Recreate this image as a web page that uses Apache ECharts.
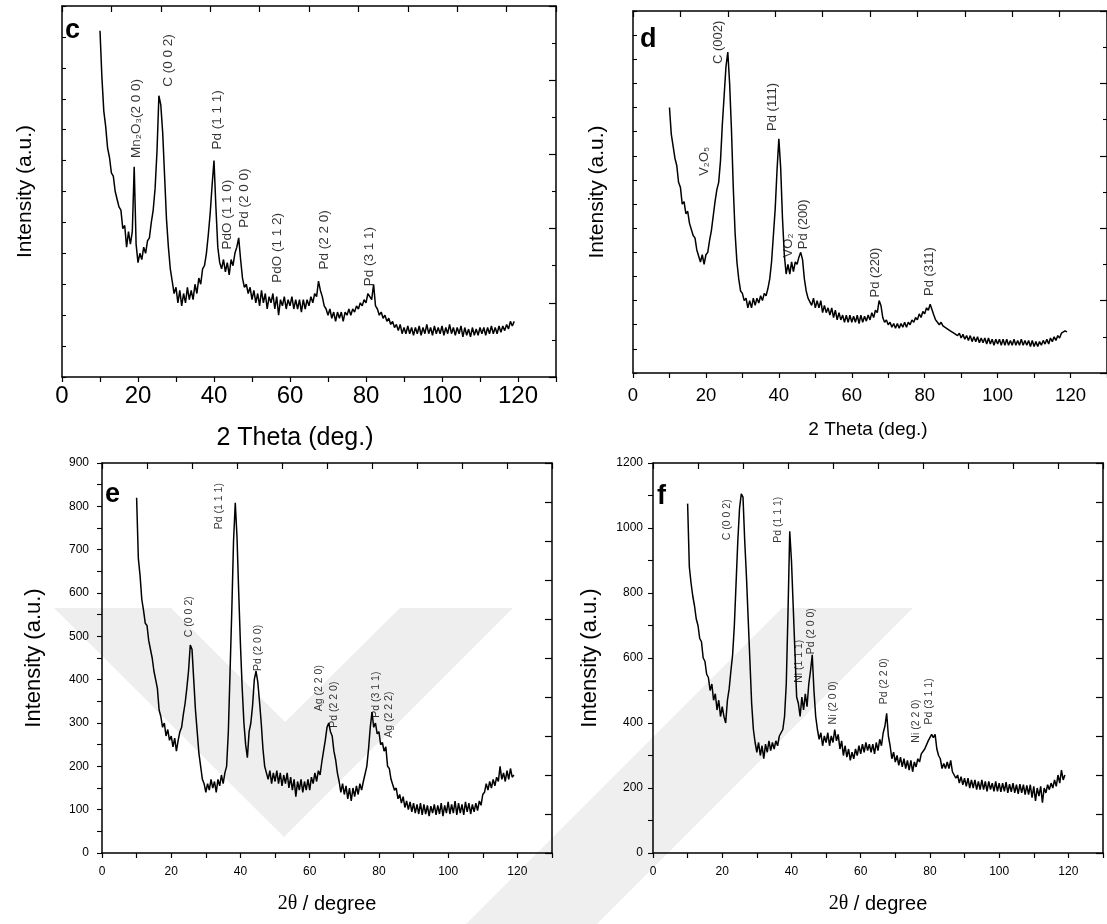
<!DOCTYPE html>
<html><head><meta charset="utf-8">
<script src="https://cdn.jsdelivr.net/npm/echarts@6/dist/echarts.min.js"></script>
<style>html,body{margin:0;padding:0;background:#fff}#chart{width:1107px;height:924px}</style>
</head><body><div id="chart"></div>
<script>
// 2θ grid shared by the four diffractograms (degrees)
const twoTheta = [
 10,10.5,11,11.5,12,12.5,13,13.5,14,14.5,15,15.5,16,16.5,17,17.5,18,18.5,19,19.5,
 20,20.5,21,21.5,22,22.5,23,23.5,24,24.5,25,25.5,26,26.5,27,27.5,28,28.5,29,29.5,
 30,30.5,31,31.5,32,32.5,33,33.5,34,34.5,35,35.5,36,36.5,37,37.5,38,38.5,39,39.5,
 40,40.5,41,41.5,42,42.5,43,43.5,44,44.5,45,45.5,46,46.5,47,47.5,48,48.5,49,49.5,
 50,50.5,51,51.5,52,52.5,53,53.5,54,54.5,55,55.5,56,56.5,57,57.5,58,58.5,59,59.5,
 60,60.5,61,61.5,62,62.5,63,63.5,64,64.5,65,65.5,66,66.5,67,67.5,68,68.5,69,69.5,
 70,70.5,71,71.5,72,72.5,73,73.5,74,74.5,75,75.5,76,76.5,77,77.5,78,78.5,79,79.5,
 80,80.5,81,81.5,82,82.5,83,83.5,84,84.5,85,85.5,86,86.5,87,87.5,88,88.5,89,89.5,
 90,90.5,91,91.5,92,92.5,93,93.5,94,94.5,95,95.5,96,96.5,97,97.5,98,98.5,99,99.5,
 100,100.5,101,101.5,102,102.5,103,103.5,104,104.5,105,105.5,106,106.5,107,107.5,108,108.5,109,109.5,
 110,110.5,111,111.5,112,112.5,113,113.5,114,114.5,115,115.5,116,116.5,117,117.5,118,118.5,119
];
// Panel c intensity (a.u.)
const intensityC = [
 112,97,86,81,74,71,66,65,60,60,55,54,48,49,42,47,43,47,68,43,
 37,40,38,42,40,44,45,50,54,61,73,91,88,79,65,51,42,35,31,27,
 29,24,28,23,27,24,29,25,28,25,30,27,32,30,35,36,40,46,53,62,
 70,55,42,37,35,38,34,37,33,38,36,40,42,45,38,32,29,30,27,29,
 25,28,24,27,23,28,24,27,22,26,24,27,22,26,20,25,23,26,22,25,
 23,26,22,25,22,25,21,25,22,25,23,26,24,27,26,31,28,26,23,22,
 20,22,19,21,18,21,19,21,18,21,20,22,20,22,21,23,22,24,23,25,
 24,27,26,25,30,23,22,20,21,19,20,18,19,17,18,16,17,15,17,14,
 16,14,16.5,14,16,13.5,16,14,16.5,13.5,16,14,17,14,16,13.5,16.5,14,16,14,
 16.5,13.5,16,14,17,14,16,13.5,16,14,16.5,13,16,13.5,15.5,13,16,13.5,15.5,13.5,
 16,14,16,13.5,16,14,16.5,14,16,14,16.5,14.5,16.5,15,17,15.5,18,16.5,18
];
// Panel d intensity (a.u.)
const intensityD = [
 110,99,94,89,86,79,77,70,71,66,67,62,62,57,56,51,51,46,49,45,
 49,50,55,59,65,71,76,79,88,103,115,127,133,120,101,77,58,46,39,34,
 33,30,31,27,30,27,31,28,31,29,32,30,33,32,35,39,46,57,68,84,
 97,85,64,49,41,45,41,46,42,46,45,48,50,47,39,34,31,31,28,31,
 27,30,27,30,25,28,25,27,24,27,23,26,22,25,22,24,21,24,21,24,
 21,23.5,21,24,20.5,24,21,23.5,21.5,24,22,25,23,26,25,30,28,23,21,22,
 20,21,19,20.5,18.5,20.5,18.5,20.5,19,21,19,21,20,22,21,23,22,24.5,23,25.5,
 24.5,27,26,28.5,29,24,22,21,20,21,19.5,20,18.5,19,17.5,18,16.5,17,15.5,16.5,
 14.5,16,14,15.5,13.5,15.5,13,15,13,15,12.5,14.5,12.5,14.5,12,14.5,12,14,11.5,14,
 12,14,11.5,14,11.5,14,11.5,13.5,11.5,14,11.5,13.5,11.5,14,11.5,13.5,11.5,13.5,11,13.5,
 11,13,11,13,11.5,13.5,12,14,12,14.5,13,15,13.5,15.5,14.5,16.5,16,17.5,17
];
// Panel e intensity (a.u.)
const intensityE = [
 820,680,640,585,560,530,525,490,490,450,420,400,380,330,315,290,300,270,285,260,
 270,245,265,235,260,280,290,320,345,380,420,480,470,400,330,280,230,200,170,160,
 140,160,145,170,150,165,140,170,155,180,160,185,200,280,420,560,720,808,730,600,
 480,380,300,250,220,280,300,340,400,420,395,350,300,240,200,185,170,190,160,185,
 165,190,160,185,155,180,160,185,150,175,145,170,130,165,145,170,140,165,145,170,
 145,175,160,185,165,190,180,210,235,260,290,300,280,270,235,215,185,165,140,160,
 135,155,125,150,120,150,130,155,135,160,145,165,165,200,240,290,325,290,300,275,
 280,250,255,235,245,200,195,170,170,145,150,125,135,115,130,105,120,100,118,95,
 115,92,112,90,115,88,112,90,110,85,108,92,112,88,110,90,115,85,110,92,
 118,90,112,92,120,88,115,92,112,88,118,95,115,90,112,95,115,98,120,110,
 135,140,160,145,165,150,170,155,175,165,200,170,185,165,190,170,195,175,180
];
// Panel f intensity (a.u.)
const intensityF = [
 1075,880,830,790,760,720,700,660,650,600,590,550,540,500,520,470,490,440,470,420,
 450,420,400,470,505,560,610,700,830,960,1060,1105,1095,960,850,720,590,460,380,340,
 310,340,300,330,290,335,310,345,315,340,320,345,330,360,355,380,420,520,740,990,
 900,760,620,480,460,420,480,440,490,450,520,560,610,500,420,380,350,370,330,360,
 340,370,330,360,340,380,345,365,320,345,300,330,295,320,285,310,290,320,300,330,
 305,335,310,340,315,335,310,335,305,340,315,350,330,370,390,430,360,330,290,310,
 280,300,270,295,265,290,260,285,255,285,250,280,265,290,280,305,300,320,320,345,
 340,365,355,365,320,300,290,260,275,260,280,260,285,250,255,230,240,215,235,210,
 230,205,230,200,225,200,225,195,220,195,225,195,220,190,220,195,215,190,220,190,
 215,188,215,190,218,185,212,188,215,185,210,182,212,185,210,180,208,180,210,170,
 205,160,200,175,205,155,200,185,210,195,215,200,225,205,240,215,255,225,240
];
// Peak assignments: [2θ, intensity at label foot, text]
const peaksC = [
 [19.7, 70.7, 'Mn\u2082O\u2083(2 0 0)'], [28.2, 93.7, 'C (0 0 2)'], [41.1, 73.4, 'Pd (1 1 1)'],
 [43.7, 41.1, 'PdO (1 1 0)'], [48.1, 48.1, 'Pd (2 0 0)'], [56.8, 30.3, 'PdO (1 1 2)'],
 [69.1, 34.6, 'Pd (2 2 0)'], [81.0, 29.2, 'Pd (3 1 1)']
];
const peaksD = [
 [23.6, 127.8, 'C (002)'], [19.7, 81.5, 'V\u2082O\u2085'], [38.4, 100.1, 'Pd (111)'],
 [42.8, 47.7, 'VO\u2082'], [46.8, 51.1, 'Pd (200)'], [66.7, 31.1, 'Pd (220)'], [81.4, 31.7, 'Pd (311)']
];
const peaksE = [
 [34.1, 746, 'Pd (1 1 1)'], [25.2, 497, 'C (0 0 2)'], [45.2, 419, 'Pd (2 0 0)'],
 [63.0, 326, 'Ag (2 2 0)'], [67.3, 288, 'Pd (2 2 0)'], [79.4, 311, 'Pd (3 1 1)'], [83.2, 265, 'Ag (2 2 2)']
];
const peaksF = [
 [21.5, 961, 'C (0 0 2)'], [36.3, 953, 'Pd (1 1 1)'], [42.3, 522, 'Ni (1 1 1)'], [45.7, 610, 'Pd (2 0 0)'],
 [52.2, 394, 'Ni (2 0 0)'], [66.8, 456, 'Pd (2 2 0)'], [76.1, 338, 'Ni (2 2 0)'], [80.0, 394, 'Pd (3 1 1)']
];
const panelLetters = ['c', 'd', 'e', 'f'];

const FONT = "'Liberation Sans', Arial, 'DejaVu Sans', sans-serif";
const panels = [
 {grid:{left:62, top:6, width:494, height:371}, y:intensityC, peaks:peaksC, yMax:120, yInt:10, yLabels:false, yMinor:0, rInt:24, rMinor:2,
  xLabelSize:24, xLabelMargin:7, xName:'2 Theta (deg.)', xNameGap:49, xNameSize:25, xNamePad:[0, 28, 0, 0], yNameGap:26, yNameSize:21, yLabelMargin:8, peakSize:13.5,
  letter:{x:65, y:31, size:27}},
 {grid:{left:633, top:11, width:474, height:362}, y:intensityD, peaks:peaksD, yMax:150, yInt:10, yLabels:false, yMinor:0, rInt:30, rMinor:2,
  xLabelSize:18.5, xLabelMargin:13, xName:'2 Theta (deg.)', xNameGap:47, xNameSize:19, xNamePad:[0, 4, 0, 0], yNameGap:25, yNameSize:21, yLabelMargin:8, peakSize:13,
  letter:{x:640, y:40, size:27}},
 {grid:{left:102, top:463, width:450, height:390}, y:intensityE, peaks:peaksE, yMax:900, yInt:100, yLabels:true, yMinor:2, rInt:90, rMinor:0,
  xLabelSize:12, xLabelMargin:13, xName:'{s|2\u03b8} / degree', xNameGap:41, xNameSize:20, xNamePad:[0, 0, 0, 0], yNameGap:57, yNameSize:22, yLabelMargin:13, peakSize:10.5,
  letter:{x:105, y:495, size:27}},
 {grid:{left:653, top:463, width:450, height:390}, y:intensityF, peaks:peaksF, yMax:1200, yInt:200, yLabels:true, yMinor:2, rInt:120, rMinor:0,
  xLabelSize:12, xLabelMargin:13, xName:'{s|2\u03b8} / degree', xNameGap:41, xNameSize:20, xNamePad:[0, 0, 0, 0], yNameGap:52, yNameSize:22, yLabelMargin:10, peakSize:10.5,
  letter:{x:657, y:497, size:27}}
];

const grids = [], xAxes = [], yAxes = [], series = [];
const black = '#000';
// faint background watermark (chevron bands)
const graphics = [
  {type:'polygon', z:-5, silent:true, shape:{points:[[54,608],[171,608],[285,722],[400,608],[513,608],[284,837]]}, style:{fill:'#eeeeee'}},
  {type:'polygon', z:-5, silent:true, shape:{points:[[782,608],[913,608],[597,924],[466,924]]}, style:{fill:'#efefef'}}
];
panels.forEach((p, k) => {
  grids.push(Object.assign({outerBoundsMode:'none', containLabel:false}, p.grid));
  const isBig = !p.yLabels;
  xAxes.push({type:'value', gridIndex:k, position:'bottom', min:0, max:130, interval:10,
    axisLine:{onZero:false, lineStyle:{color:black, width:1.5}},
    axisTick:{show:true, inside:false, length:5, lineStyle:{color:black, width:1.2}},
    axisLabel:{show:true, color:black, fontSize:p.xLabelSize, fontFamily:FONT, margin:p.xLabelMargin,
      formatter: v => (v % 20 === 0 && v <= 120) ? String(v) : ''},
    splitLine:{show:false},
    name:p.xName, nameLocation:'middle', nameGap:p.xNameGap,
    nameTextStyle:{color:black, fontSize:p.xNameSize, fontFamily:FONT, padding:p.xNamePad,
      rich:{s:{fontFamily:"'Liberation Serif', 'DejaVu Serif', serif", fontSize:p.xNameSize, color:black}}}
  });
  xAxes.push({type:'value', gridIndex:k, position:'top', min:0, max:130, interval:13,
    axisLine:{onZero:false, lineStyle:{color:black, width:1.5}},
    axisTick:{show:true, inside:true, length:6, lineStyle:{color:black, width:1.2}},
    axisLabel:{show:false}, splitLine:{show:false}});
  yAxes.push({type:'value', gridIndex:k, position:'left', min:0, max:p.yMax, interval:p.yInt,
    axisLine:{onZero:false, lineStyle:{color:black, width:1.5}},
    axisTick:{show:true, inside:isBig, length:isBig ? 4 : 5, lineStyle:{color:black, width:1.1}},
    minorTick:{show:p.yMinor > 0, splitNumber:p.yMinor || 5, length:5, lineStyle:{color:black, width:1.1}},
    axisLabel:{show:p.yLabels, color:black, fontSize:12, fontFamily:FONT, margin:p.yLabelMargin,
      formatter: v => String(v)},
    splitLine:{show:false},
    name:'Intensity (a.u.)', nameLocation:'middle', nameGap:p.yNameGap,
    nameTextStyle:{color:black, fontSize:p.yNameSize, fontFamily:FONT}
  });
  yAxes.push({type:'value', gridIndex:k, position:'right', min:0, max:p.yMax, interval:p.rInt,
    axisLine:{onZero:false, lineStyle:{color:black, width:1.5}},
    axisTick:{show:true, inside:true, length:7, lineStyle:{color:black, width:1.2}},
    minorTick:{show:p.rMinor > 0, splitNumber:p.rMinor || 5, length:4, lineStyle:{color:black, width:1.1}},
    axisLabel:{show:false}, splitLine:{show:false}});
  series.push({type:'line', xAxisIndex:2*k, yAxisIndex:2*k, symbol:'none', showSymbol:false, silent:true,
    data: twoTheta.map((t, i) => [t, p.y[i]]),
    lineStyle:{color:black, width:1.5}, z:3});
  series.push({type:'scatter', xAxisIndex:2*k, yAxisIndex:2*k, symbol:'circle', symbolSize:1, silent:true,
    itemStyle:{color:'rgba(0,0,0,0)'}, z:4,
    data: p.peaks.map(q => ({value:[q[0], q[1]], name:q[2]})),
    label:{show:true, formatter:'{b}', rotate:90, position:[0, 0], align:'left', verticalAlign:'middle',
      color:black, fontSize:p.peakSize, fontFamily:FONT}});
  graphics.push({type:'text', x:p.letter.x, y:p.letter.y, z:100,
    style:{text:panelLetters[k], fill:black, font:'bold ' + p.letter.size + "px 'Liberation Sans', Arial, sans-serif",
      align:'left', verticalAlign:'middle', textAlign:'left', textVerticalAlign:'middle'}});
});

const chart = echarts.init(document.getElementById('chart'), null, {renderer:'canvas'});
chart.setOption({
  backgroundColor:'#fff', animation:false, textStyle:{fontFamily:FONT},
  grid:grids, xAxis:xAxes, yAxis:yAxes, series:series, graphic:graphics
});
</script></body></html>
